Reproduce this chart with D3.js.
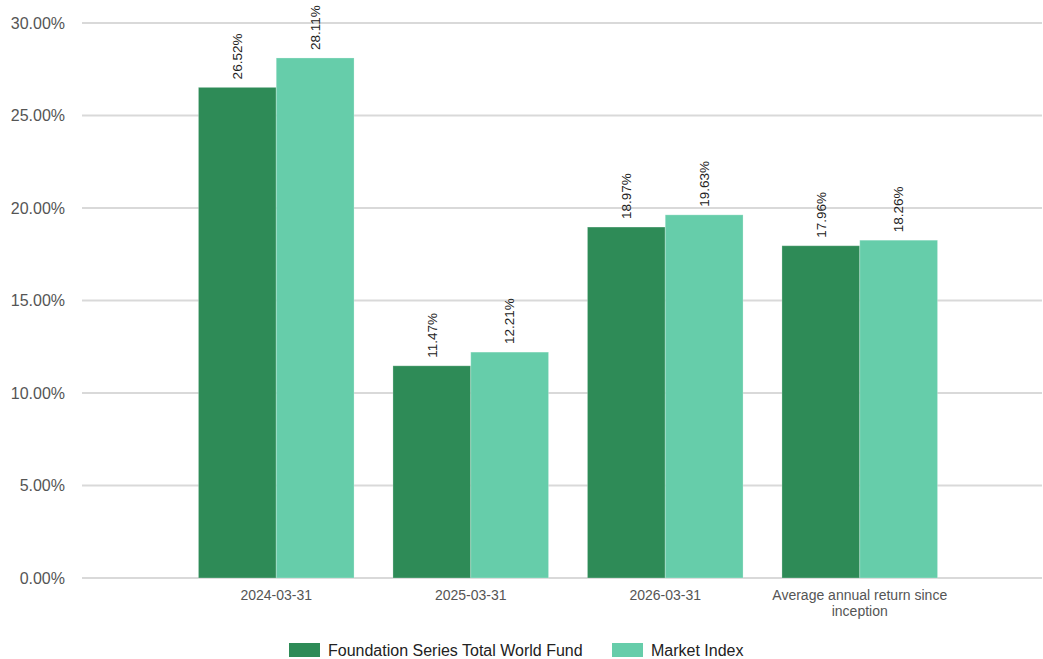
<!DOCTYPE html>
<html>
<head>
<meta charset="utf-8">
<script src="https://cdn.jsdelivr.net/npm/d3@7"></script>
<style>
  body { margin: 0; background: #fff; }
  svg { display: block; font-family: "Liberation Sans", Arial, sans-serif; }
</style>
</head>
<body>
<div id="chart"></div>
<script>
// chart data
const categories = ["2024-03-31", "2025-03-31", "2026-03-31", "Average annual return since inception"];
const seriesNames = ["Foundation Series Total World Fund", "Market Index"];
const fundValues = [26.52, 11.47, 18.97, 17.96];
const indexValues = [28.11, 12.21, 19.63, 18.26];
const yTicks = [0, 5, 10, 15, 20, 25, 30];
const colors = ["#2e8b57", "#66cdaa"];

const width = 1043, height = 659;
const plot = {left: 82, right: 1042, top: 23, bottom: 578};

const svg = d3.select('#chart').append('svg')
    .attr('width', width)
    .attr('height', height);

const y = d3.scaleLinear().domain([0, 30]).range([plot.bottom, plot.top]);

// outer band scale for the groups, inner one for the two series
const x0 = d3.scaleBand()
    .domain(categories)
    .range([179, 957])
    .paddingInner(0.2)
    .paddingOuter(0.1);

const x1 = d3.scaleBand()
    .domain(seriesNames)
    .range([0, x0.bandwidth()]);

// gridlines
svg.append('g')
    .selectAll('line')
    .data(yTicks)
    .join('line')
    .attr('x1', plot.left)
    .attr('x2', plot.right)
    .attr('y1', d => y(d))
    .attr('y2', d => y(d))
    .attr('stroke', '#d9d9d9')
    .attr('stroke-width', 2);

// y labels
svg.append('g')
    .selectAll('text')
    .data(yTicks)
    .join('text')
    .attr('x', 65)
    .attr('y', d => y(d))
    .attr('dy', '0.35em')
    .attr('text-anchor', 'end')
    .attr('font-size', 16)
    .attr('fill', '#555')
    .text(d => d.toFixed(2) + '%');

const rows = categories.map((c, i) => ({
    cat: c,
    vals: [
        {name: seriesNames[0], v: fundValues[i]},
        {name: seriesNames[1], v: indexValues[i]}
    ]
}));

const groups = svg.append('g')
    .selectAll('g')
    .data(rows)
    .join('g')
    .attr('transform', d => `translate(${x0(d.cat)},0)`);

groups.selectAll('rect')
    .data(d => d.vals)
    .join('rect')
    .attr('x', d => x1(d.name))
    .attr('y', d => y(d.v))
    .attr('width', x1.bandwidth())
    .attr('height', d => y(0) - y(d.v))
    .attr('fill', (d, i) => colors[i])
    .attr('stroke', '#fff')
    .attr('stroke-opacity', 0.25)
    .attr('stroke-width', 1);

// rotated value labels
groups.selectAll('text')
    .data(d => d.vals)
    .join('text')
    .attr('transform', d => `translate(${x1(d.name) + x1.bandwidth() / 2},${y(d.v) - 8}) rotate(-90)`)
    .attr('dy', '0.35em')
    .attr('text-anchor', 'start')
    .attr('font-size', 13.5)
    .attr('fill', '#222')
    .text(d => d.v.toFixed(2) + '%');

// x labels (wrap long ones)
const xLabels = svg.append('g')
    .selectAll('text')
    .data(categories)
    .join('text')
    .attr('x', d => x0(d) + x0.bandwidth() / 2)
    .attr('y', 600)
    .attr('text-anchor', 'middle')
    .attr('font-size', 14)
    .attr('fill', '#555');

xLabels.each(function(d) {
    const el = d3.select(this);
    const lines = d.length > 20 ? ["Average annual return since", "inception"] : [d];
    lines.forEach((ln, k) => {
        el.append('tspan')
            .attr('x', x0(d) + x0.bandwidth() / 2)
            .attr('dy', k === 0 ? 0 : 16)
            .text(ln);
    });
});

// legend
const legendItems = [
    {name: seriesNames[0], x: 289},
    {name: seriesNames[1], x: 612}
];
const lg = svg.append('g');
legendItems.forEach((d, i) => {
    lg.append('rect')
        .attr('x', d.x)
        .attr('y', 643)
        .attr('width', 31)
        .attr('height', 14)
        .attr('fill', colors[i]);
    lg.append('text')
        .attr('x', d.x + 39)
        .attr('y', 650)
        .attr('dy', '0.35em')
        .attr('font-size', 16)
        .attr('fill', '#222')
        .text(d.name);
});
</script>
</body>
</html>
